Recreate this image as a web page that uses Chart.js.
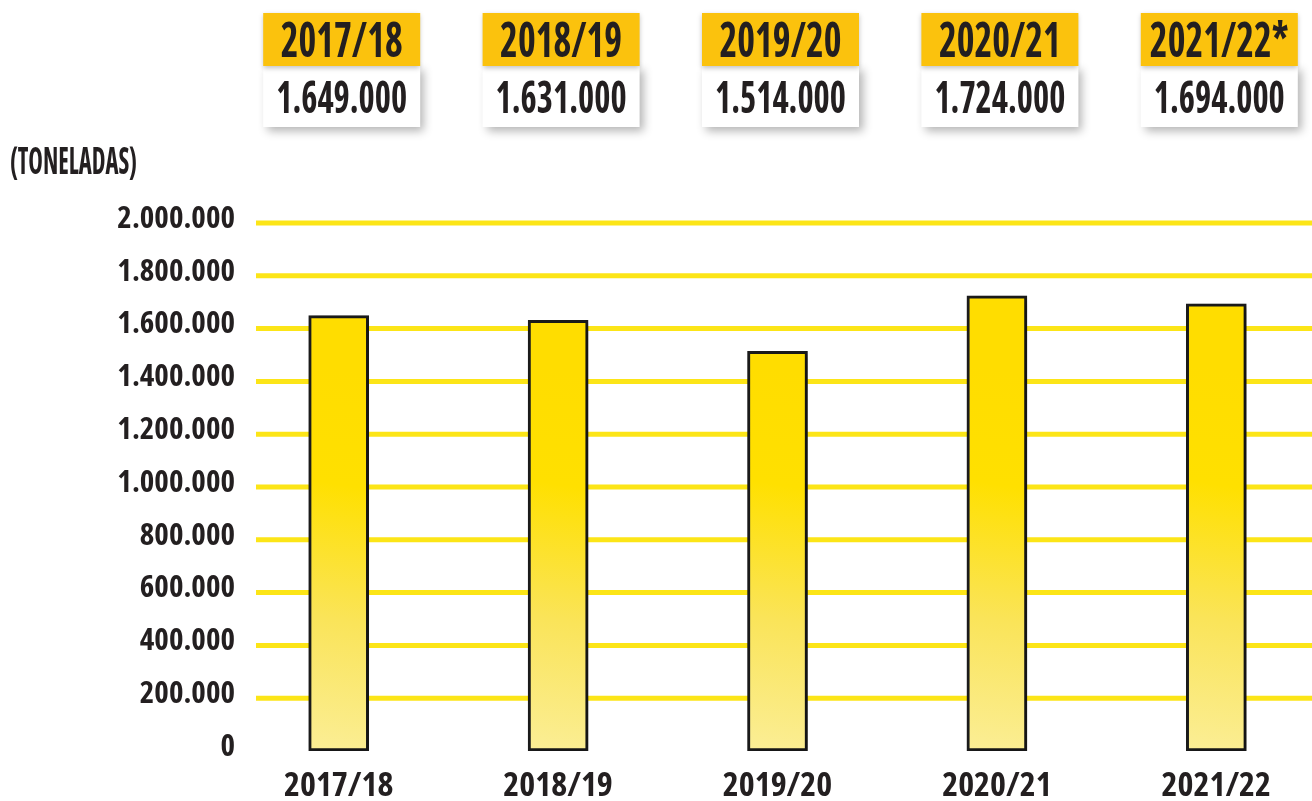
<!DOCTYPE html>
<html lang="es">
<head>
<meta charset="utf-8">
<title>Toneladas por campaña</title>
<script src="https://cdn.jsdelivr.net/npm/chart.js@4/dist/chart.umd.min.js"></script>
<style>
    html, body { margin: 0; padding: 0; background: #ffffff; overflow: hidden; }
    #wrap { width: 1326px; height: 801px; }
</style>
</head>
<body>
<div id="wrap"><canvas id="grafico" width="1326" height="801"></canvas></div>
<script>
// Datos del gráfico
const campanas = ['2017/18', '2018/19', '2019/20', '2020/21', '2021/22'];
const etiquetasCabecera = ['2017/18', '2018/19', '2019/20', '2020/21', '2021/22*'];
const toneladas = [1649000, 1631000, 1514000, 1724000, 1694000];
const ticksY = [0, 200000, 400000, 600000, 800000, 1000000, 1200000, 1400000, 1600000, 1800000, 2000000];
const unidad = '(TONELADAS)';

const FUENTE = "'Open Sans', 'DejaVu Sans Condensed', sans-serif";
const TINTA = '#231f20';
// Chart.js no admite font-stretch, se añade delante del peso
const PESO = 'condensed bold';

// Formato con punto como separador de miles
function formatoMiles(n) {
    return n.toString().replace(/\B(?=(\d{3})+(?!\d))/g, '.');
}

// Relleno degradado para cada barra
function rellenoBarra(context) {
    const chart = context.chart;
    const area = chart.chartArea;
    if (!area) return '#ffdf00';
    const x = chart.scales.x.getPixelForValue(context.dataIndex);
    const g = chart.ctx.createLinearGradient(x - 30, area.bottom, x + 30, area.top + 150);
    g.addColorStop(0, '#fbee96');
    g.addColorStop(0.35, '#fae459');
    g.addColorStop(0.7, '#ffe000');
    g.addColorStop(1, '#ffdd00');
    return g;
}

// Escribe un texto comprimido horizontalmente
function textoComprimido(ctx, txt, x, y, factor) {
    const w = ctx.measureText(txt).width;
    ctx.fillText(txt, x, y, w * factor);
}

// El eje X empieza un poco antes que el área del gráfico
const pluginEjeX = {
    id: 'ejeX',
    afterLayout(chart) {
        const xs = chart.scales.x;
        xs.left = 229;
        xs.width = xs.right - xs.left;
        xs.configure();
    }
};

// Líneas de guía amarillas y sombra de las barras
const pluginFondo = {
    id: 'fondo',
    beforeDatasetsDraw(chart) {
        const ctx = chart.ctx;
        const y = chart.scales.y;
        ctx.save();
        ctx.strokeStyle = '#fce517';
        ctx.lineWidth = 5;
        y.ticks.forEach(t => {
            if (t.value <= 0) return;
            const py = y.getPixelForValue(t.value);
            ctx.beginPath();
            ctx.moveTo(256, py);
            ctx.lineTo(chart.width, py);
            ctx.stroke();
        });
        ctx.restore();
        ctx.save();
        ctx.shadowColor = 'rgba(0,0,0,0.35)';
        ctx.shadowBlur = 8;
        ctx.shadowOffsetX = 4;
        ctx.shadowOffsetY = 3;
    },
    afterDatasetsDraw(chart) {
        chart.ctx.restore();
    }
};

// Cajas superiores con campaña y toneladas
const pluginCabecera = {
    id: 'cabecera',
    afterDraw(chart) {
        const ctx = chart.ctx;
        const xs = chart.scales.x;
        const ancho = 157;

        ctx.save();
        ctx.font = PESO + ' 48px ' + FUENTE;
        const fAnio = 122 / ctx.measureText('2017/18').width;
        ctx.font = PESO + ' 44px ' + FUENTE;
        const fValor = 131 / ctx.measureText('1.649.000').width;
        ctx.restore();

        campanas.forEach((c, i) => {
            const cx = xs.getPixelForValue(i) + 3;
            const x0 = cx - ancho / 2;

            ctx.save();
            ctx.shadowColor = 'rgba(0,0,0,0.3)';
            ctx.shadowBlur = 9;
            ctx.shadowOffsetX = 4;
            ctx.shadowOffsetY = 4;
            ctx.fillStyle = '#ffffff';
            ctx.fillRect(x0, 66, ancho, 61);
            ctx.restore();

            ctx.save();
            ctx.shadowColor = 'rgba(0,0,0,0.25)';
            ctx.shadowBlur = 5;
            ctx.shadowOffsetY = 2;
            ctx.fillStyle = '#fbc20d';
            ctx.fillRect(x0, 13, ancho, 53);
            ctx.restore();

            ctx.save();
            ctx.fillStyle = TINTA;
            ctx.textAlign = 'center';
            ctx.textBaseline = 'alphabetic';
            ctx.font = PESO + ' 48px ' + FUENTE;
            textoComprimido(ctx, etiquetasCabecera[i], cx, 57, fAnio);
            ctx.font = PESO + ' 44px ' + FUENTE;
            textoComprimido(ctx, formatoMiles(toneladas[i]), cx, 113, fValor);
            ctx.restore();
        });

        ctx.save();
        ctx.fillStyle = TINTA;
        ctx.textAlign = 'left';
        ctx.textBaseline = 'alphabetic';
        ctx.font = PESO + ' 37px ' + FUENTE;
        const w = ctx.measureText(unidad).width;
        ctx.fillText(unidad, 10, 174, Math.min(w, 127));
        ctx.restore();
    }
};

const ctx = document.getElementById('grafico').getContext('2d');
new Chart(ctx, {
    type: 'bar',
    data: {
        labels: campanas,
        datasets: [{
            data: toneladas,
            backgroundColor: rellenoBarra,
            borderColor: '#1b1b1b',
            borderWidth: 3,
            borderSkipped: false,
            barThickness: 60
        }]
    },
    options: {
        responsive: false,
        animation: false,
        layout: { padding: { top: 223, left: 0, right: 0, bottom: 0 } },
        plugins: {
            legend: { display: false },
            tooltip: { enabled: false }
        },
        scales: {
            x: {
                grid: { display: false, drawTicks: false },
                border: { display: false },
                ticks: {
                    color: TINTA,
                    padding: 15,
                    font: { family: FUENTE, size: 34, weight: PESO }
                },
                afterFit(scale) { scale.height = 50; }
            },
            y: {
                min: 0,
                max: 2000000,
                afterBuildTicks(scale) {
                    scale.ticks = ticksY.map(v => ({ value: v }));
                },
                grid: { display: false, drawTicks: false },
                border: { display: false },
                ticks: {
                    color: TINTA,
                    padding: 0,
                    labelOffset: -4,
                    font: { family: FUENTE, size: 31, weight: PESO },
                    callback: v => formatoMiles(v)
                },
                afterFit(scale) { scale.width = 235; }
            }
        }
    },
    plugins: [pluginEjeX, pluginFondo, pluginCabecera]
});
</script>
</body>
</html>
